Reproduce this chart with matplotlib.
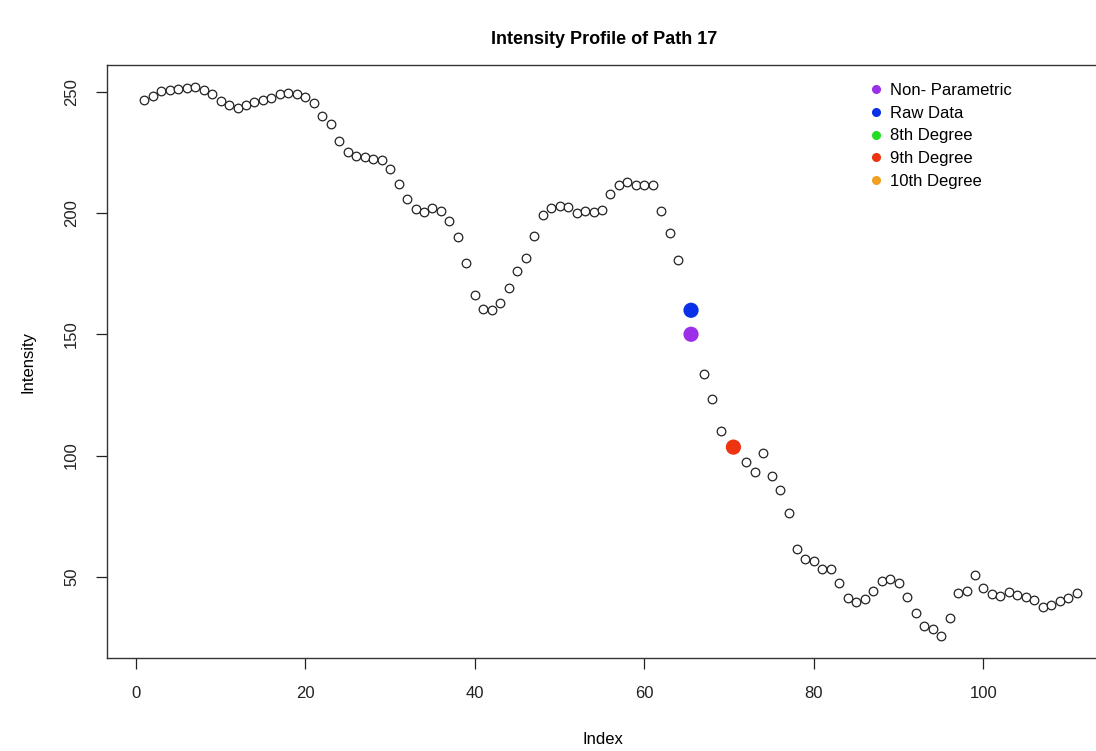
import numpy as np
import matplotlib
matplotlib.use("Agg")
import matplotlib.pyplot as plt
from matplotlib.lines import Line2D

plt.rcParams['font.family'] = ['Liberation Sans', 'DejaVu Sans']

# Intensity values for index 1..111 (NaN = missing)
intensity = [
    246.8, 248.6, 250.4, 250.9, 251.4, 251.9, 252.2, 251.1, 249.2, 246.4,
    244.8, 243.5, 244.9, 246.1, 246.7, 247.8, 249.4, 249.8, 249.4, 248.2,
    245.6, 240.3, 236.9, 230.0, 225.5, 223.6, 223.1, 222.3, 222.1, 218.2,
    212.3, 205.9, 202.0, 200.4, 202.3, 201.1, 196.7, 190.1, 179.6, 166.5,
    160.5, 160.0, 162.8, 169.3, 176.2, 181.4, 190.5, 199.3, 202.2, 203.1,
    202.5, 200.1, 200.8, 200.4, 201.4, 207.9, 211.7, 212.8, 211.7, 211.7,
    211.7, 200.8, 191.7, 180.7, np.nan, np.nan, 133.6, 123.3, 110.0, np.nan,
    np.nan, 97.4, 93.4, 101.2, 91.6, 85.8, 76.2, 61.3, 57.2, 56.4,
    53.2, 53.2, 47.6, 41.3, 39.5, 40.6, 44.3, 48.2, 49.2, 47.5,
    41.6, 35.1, 29.6, 28.5, 25.5, 32.9, 43.1, 44.1, 50.5, 45.2,
    42.7, 42.0, 43.6, 42.4, 41.7, 40.3, 37.4, 38.3, 40.0, 41.0,
    43.1,
]
index = list(range(1, len(intensity) + 1))

# Estimated points
est_labels = ["Non- Parametric", "Raw Data", "8th Degree", "9th Degree", "10th Degree"]
est_colors = ["#9B30E8", "#0A30E8", "#22DD22", "#EE3311", "#F0A020"]
est_x = [65.5, 65.5, 70.5]
est_y = [150.1, 160.0, 103.5]
est_col = ["#9B30E8", "#0A30E8", "#EE3311"]

W, H = 1096, 751
fig = plt.figure(figsize=(W / 100, H / 100), dpi=100)
ax = fig.add_axes([107 / W, (H - 658) / H, 1007 / W, 593 / H])

ax.plot(index, intensity, linestyle='none', marker='o', markersize=6.2,
        markerfacecolor='white', markeredgecolor='#222222', markeredgewidth=0.9)
ax.scatter(est_x, est_y, s=120, c=est_col, zorder=3, linewidths=0)

x = np.array(index, dtype=float)
y = np.array(intensity, dtype=float)
xr = x.max() - x.min()
ax.set_xlim(x.min() - 0.04 * xr, x.max() + 0.04 * xr)
ymin, ymax = np.nanmin(y), np.nanmax(y)
yr = ymax - ymin
ax.set_ylim(ymin - 0.04 * yr, ymax + 0.04 * yr)

ax.set_xticks([0, 20, 40, 60, 80, 100])
ax.set_yticks([50, 100, 150, 200, 250])
ax.tick_params(axis='both', direction='out', length=8, width=0.9, labelsize=12,
               colors='#222222')
ax.tick_params(axis='x', pad=12)
ax.tick_params(axis='y', pad=12)
for lab in ax.get_yticklabels():
    lab.set_rotation(90)
    lab.set_va('center')
for s in ax.spines.values():
    s.set_color('#333333')
    s.set_linewidth(1.0)

fig.text(604 / W, 1 - 40 / H, "Intensity Profile of Path 17", ha='center', va='center',
         fontsize=13, fontweight='bold')
fig.text(603 / W, 1 - 740 / H, "Index", ha='center', va='center', fontsize=12)
fig.text(28 / W, 1 - 362 / H, "Intensity", ha='center', va='center', fontsize=12, rotation=90)

handles = [Line2D([], [], linestyle='none', marker='o', markersize=5.5,
                  markerfacecolor=c, markeredgecolor=c) for c in est_colors]
leg = ax.legend(handles, est_labels, loc='upper left', frameon=False, fontsize=12,
                bbox_to_anchor=(868 / W, 1 - 83 / H), bbox_transform=fig.transFigure,
                handlelength=1.0, handletextpad=0.3, labelspacing=0.46,
                borderaxespad=0, borderpad=0)

fig.savefig("out.png", dpi=100)
